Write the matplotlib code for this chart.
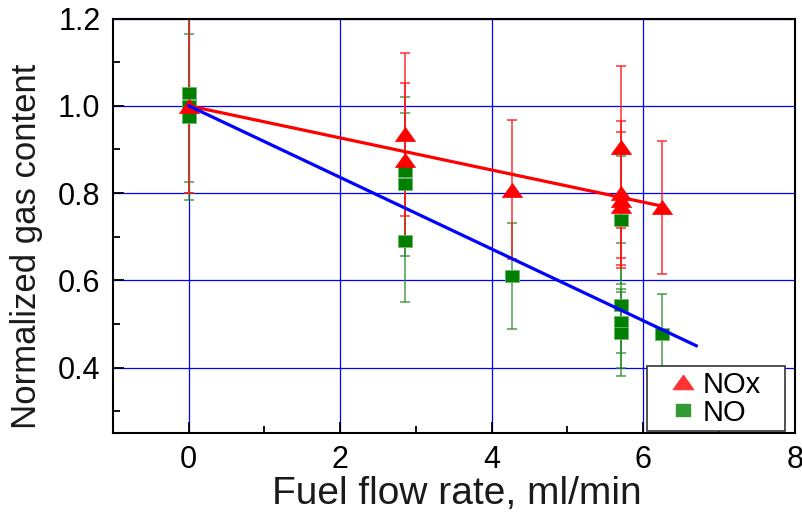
import matplotlib
matplotlib.use("Agg")
import matplotlib.pyplot as plt
from matplotlib.ticker import MultipleLocator
from matplotlib.path import Path

plt.rcParams['font.family'] = ['Liberation Sans', 'DejaVu Sans']

# NOx measurements (normalized) with error bars
nox_x = [0, 2.85, 2.85, 4.27, 5.7, 5.7, 5.7, 5.7, 6.25]
nox_y = [1.0, 0.935, 0.875, 0.808, 0.906, 0.80, 0.785, 0.77, 0.767]
nox_err = [0.2, 0.187, 0.178, 0.16, 0.185, 0.166, 0.156, 0.12, 0.152]

# NO measurements (normalized) with error bars
no_x = [0, 0, 0, 2.85, 2.85, 2.85, 4.27, 5.7, 5.7, 5.7, 5.7, 6.25]
no_y = [1.03, 1.0, 0.975, 0.85, 0.82, 0.69, 0.61, 0.739, 0.543, 0.504, 0.48, 0.477]
no_err = [0.205, 0.2, 0.19, 0.17, 0.164, 0.14, 0.122, 0.147, 0.143, 0.07, 0.1, 0.092]

# Linear trend lines
nox_fit_x = [0, 6.25]
nox_fit_y = [1.0, 0.77]
no_fit_x = [0, 6.7]
no_fit_y = [1.0, 0.45]

# Slightly wide triangle and square markers
tri = Path([(-1, -0.7), (1, -0.7), (0, 0.7), (-1, -0.7)],
           [Path.MOVETO, Path.LINETO, Path.LINETO, Path.CLOSEPOLY])
sq = Path([(-1, -0.85), (1, -0.85), (1, 0.85), (-1, 0.85), (-1, -0.85)],
          [Path.MOVETO, Path.LINETO, Path.LINETO, Path.LINETO, Path.CLOSEPOLY])

fig = plt.figure(figsize=(8.03, 5.22), dpi=100)
ax = fig.add_axes([0.1407, 0.1705, 0.849, 0.794])

ax.grid(True, which='major', color='#0000ff', linewidth=0.9, zorder=0)
ax.set_axisbelow(True)

ax.errorbar(no_x, no_y, yerr=no_err, fmt='none', ecolor='#2e8b2e',
            elinewidth=1.1, capsize=3.3, capthick=1.1, alpha=0.85, zorder=2)
ax.errorbar(nox_x, nox_y, yerr=nox_err, fmt='none', ecolor='#ff1a1a',
            elinewidth=1.1, capsize=3.3, capthick=1.1, alpha=0.9, zorder=2)

ax.plot(no_x, no_y, linestyle='none', marker=sq, markersize=10.5,
        color='#007f00', markeredgecolor='#6fb86f', markeredgewidth=0.6,
        zorder=3)
ax.plot(nox_x, nox_y, linestyle='none', marker=tri, markersize=14.5,
        color='#ff0000', markeredgecolor='#ff0000', markeredgewidth=0.5,
        zorder=4)

ax.plot(nox_fit_x, nox_fit_y, color='#ff0000', linewidth=2.3, zorder=5)
ax.plot(no_fit_x, no_fit_y, color='#0000ff', linewidth=2.3, zorder=5)

ax.set_xlim(-1, 8)
ax.set_ylim(0.25, 1.2)
ax.xaxis.set_major_locator(MultipleLocator(2))
ax.xaxis.set_minor_locator(MultipleLocator(1))
ax.yaxis.set_minor_locator(MultipleLocator(0.1))
ax.set_yticks([0.4, 0.6, 0.8, 1.0, 1.2])
ax.set_yticklabels(['0.4', '0.6', '0.8', '1.0', '1.2'])

ax.tick_params(which='both', direction='in', top=False, right=False,
               width=1.3, colors='black')
ax.tick_params(axis='y', which='major', length=8, pad=9, labelsize=22)
ax.tick_params(axis='x', which='major', length=8, pad=9, labelsize=22)
ax.tick_params(which='minor', length=5)
for s in ax.spines.values():
    s.set_linewidth(1.5)
    s.set_color('black')

fig.text(457 / 803, 1 - 494 / 522, 'Fuel flow rate, ml/min', fontsize=28,
         ha='center', va='center', color='#1a1a1a')
fig.text(27 / 803, 1 - 246 / 522, 'Normalized gas content', fontsize=25,
         ha='center', va='center', rotation=90, color='#1a1a1a')

h1, = ax.plot([], [], linestyle='none', marker=tri, markersize=14.5, color='#ff3333')
h2, = ax.plot([], [], linestyle='none', marker=sq, markersize=10.5, color='#339933')
leg = ax.legend([h1, h2], ['NOx', 'NO'], loc='lower left', mode='expand',
                bbox_to_anchor=(0.783, 0.005, 0.202, 0.144), fontsize=21,
                fancybox=False, framealpha=1, edgecolor='#333333',
                borderaxespad=0.0, handletextpad=-0.45, borderpad=0.15,
                labelspacing=0.0, handlelength=2.2)
leg.get_frame().set_linewidth(1.2)

fig.savefig('out.png', dpi=100)
